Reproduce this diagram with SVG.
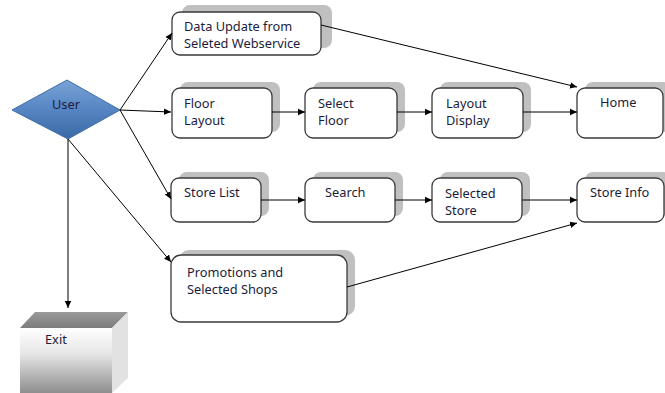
<svg xmlns="http://www.w3.org/2000/svg" width="665" height="393" viewBox="0 0 665 393">
<style>
.sh{fill:#c0c0c0;}
.bx{fill:#fff;stroke:#3a3a3a;stroke-width:1.3;}
.t{font-family:"Noto Sans","Liberation Sans",sans-serif;font-size:12.8px;fill:#1c1c3c;}
.c{stroke:#000;stroke-width:1;fill:none;marker-end:url(#ah);}
</style>
<defs>
<marker id="ah" markerWidth="8" markerHeight="8" refX="7" refY="4" orient="auto" markerUnits="userSpaceOnUse">
<path d="M0,0.8 L7,4 L0,7.2 Z" fill="#000"/>
</marker>
<linearGradient id="dg" x1="0" y1="0" x2="0" y2="1">
<stop offset="0" stop-color="#7aa3d6"/>
<stop offset="0.5" stop-color="#5585c2"/>
<stop offset="1" stop-color="#3b69a6"/>
</linearGradient>
<linearGradient id="fg" x1="0" y1="0" x2="0" y2="1">
<stop offset="0" stop-color="#ffffff"/>
<stop offset="0.4" stop-color="#e6e6e6"/>
<stop offset="1" stop-color="#8e8e8e"/>
</linearGradient>
<linearGradient id="tg" x1="0" y1="0" x2="0" y2="1">
<stop offset="0" stop-color="#9a9a9a"/>
<stop offset="1" stop-color="#7c7c7c"/>
</linearGradient>
</defs>

<g id="user">
<polygon points="67,80 120,110 68,139 12,110" fill="url(#dg)" stroke="#3d6ea8" stroke-width="1"/>
<text class="t" x="66" y="109" text-anchor="middle">User</text>
</g>

<g id="data-update">
<rect class="sh" x="182" y="5" width="150" height="43" rx="8"/>
<rect class="bx" x="172" y="12" width="149" height="43" rx="8"/>
<text class="t" x="184" y="31">Data Update from</text>
<text class="t" x="184" y="48">Seleted Webservice</text>
</g>

<g id="floor-layout">
<rect class="sh" x="180" y="82" width="100" height="50" rx="8"/>
<rect class="bx" x="172" y="88" width="100" height="50" rx="8"/>
<text class="t" x="184" y="108">Floor</text>
<text class="t" x="184" y="125">Layout</text>
</g>

<g id="select-floor">
<rect class="sh" x="313" y="82" width="92" height="50" rx="8"/>
<rect class="bx" x="305" y="88" width="92" height="50" rx="8"/>
<text class="t" x="318" y="108">Select</text>
<text class="t" x="318" y="125">Floor</text>
</g>

<g id="layout-display">
<rect class="sh" x="440" y="82" width="91" height="50" rx="8"/>
<rect class="bx" x="432" y="88" width="91" height="50" rx="8"/>
<text class="t" x="446" y="108">Layout</text>
<text class="t" x="446" y="125">Display</text>
</g>

<g id="home">
<rect class="sh" x="585" y="82" width="86" height="50" rx="8"/>
<rect class="bx" x="577" y="88" width="86" height="50" rx="8"/>
<text class="t" x="600" y="107">Home</text>
</g>

<g id="store-list">
<rect class="sh" x="179" y="172" width="90" height="44" rx="8"/>
<rect class="bx" x="171" y="178" width="90" height="44" rx="8"/>
<text class="t" x="184" y="197">Store List</text>
</g>

<g id="search">
<rect class="sh" x="313" y="172" width="90" height="44" rx="8"/>
<rect class="bx" x="305" y="178" width="90" height="44" rx="8"/>
<text class="t" x="325" y="197">Search</text>
</g>

<g id="selected-store">
<rect class="sh" x="440" y="172" width="90" height="44" rx="8"/>
<rect class="bx" x="432" y="178" width="90" height="44" rx="8"/>
<text class="t" x="445" y="198">Selected</text>
<text class="t" x="445" y="215">Store</text>
</g>

<g id="store-info">
<rect class="sh" x="585" y="172" width="86" height="44" rx="8"/>
<rect class="bx" x="577" y="178" width="87" height="44" rx="8"/>
<text class="t" x="590" y="197">Store Info</text>
</g>

<g id="promotions">
<rect class="sh" x="179" y="250" width="176" height="66" rx="10"/>
<rect class="bx" x="171" y="255" width="176" height="67" rx="10"/>
<text class="t" x="187" y="277">Promotions and</text>
<text class="t" x="187" y="294">Selected Shops</text>
</g>

<g id="exit">
<polygon points="20,328 35,312 128,312 112,328" fill="url(#tg)"/>
<polygon points="112,328 128,312 128,378 112,393" fill="#e2e2e2"/>
<rect x="20" y="328" width="92" height="65" fill="url(#fg)"/>
<text class="t" x="45" y="344">Exit</text>
</g>

<g id="connectors">
<line class="c" x1="120" y1="110" x2="172" y2="33"/>
<line class="c" x1="120" y1="110" x2="171" y2="112"/>
<line class="c" x1="120" y1="110" x2="171" y2="199"/>
<line class="c" x1="68" y1="139" x2="171" y2="262"/>
<line class="c" x1="68" y1="139" x2="68" y2="308"/>
<line class="c" x1="321" y1="25" x2="577" y2="87"/>
<line class="c" x1="272" y1="112" x2="305" y2="112"/>
<line class="c" x1="397" y1="112" x2="432" y2="112"/>
<line class="c" x1="523" y1="112" x2="577" y2="112"/>
<line class="c" x1="261" y1="200" x2="305" y2="200"/>
<line class="c" x1="395" y1="200" x2="432" y2="200"/>
<line class="c" x1="522" y1="200" x2="577" y2="200"/>
<line class="c" x1="347" y1="287" x2="577" y2="223"/>
</g>
</svg>
